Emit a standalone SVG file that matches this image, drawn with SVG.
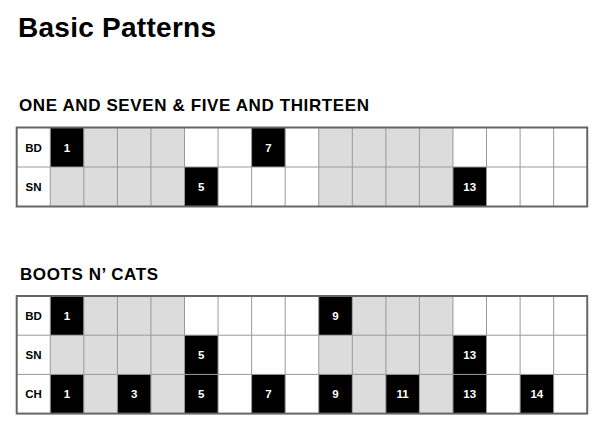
<svg xmlns="http://www.w3.org/2000/svg" width="606" height="442" viewBox="0 0 606 442">
<style>
text{font-family:"Liberation Sans",Arial,Helvetica,sans-serif;font-weight:bold}
.title{font-size:28px;fill:#000}
.sub{font-size:17px;fill:#000}
.lbl{font-size:11.5px;fill:#000;text-anchor:middle}
.num{font-size:11.5px;fill:#fff;text-anchor:middle}
.g{fill:#dcdcdc}
.b{fill:#000}
.grid{stroke:#999;stroke-width:1;fill:none}
.border{stroke:#666;stroke-width:2;fill:none}
</style>
<rect width="606" height="442" fill="#fff"/>
<text class="title" x="18" y="37" textLength="198" lengthAdjust="spacing">Basic Patterns</text>

<g id="pattern1">
<text class="sub" x="19" y="110.5" textLength="350" lengthAdjust="spacing">ONE AND SEVEN &amp; FIVE AND THIRTEEN</text>
<g id="p1-bd">
<rect class="b" x="50.26" y="127.5" width="33.56" height="39.5"/>
<rect class="g" x="83.82" y="127.5" width="100.68" height="39.5"/>
<rect class="b" x="251.62" y="127.5" width="33.56" height="39.5"/>
<rect class="g" x="318.74" y="127.5" width="134.24" height="39.5"/>
<text class="lbl" x="33.48" y="151.5">BD</text>
<text class="num" x="67.04" y="151.5">1</text>
<text class="num" x="268.4" y="151.5">7</text>
</g>
<g id="p1-sn">
<rect class="g" x="50.26" y="167" width="134.24" height="39.5"/>
<rect class="b" x="184.5" y="167" width="33.56" height="39.5"/>
<rect class="g" x="318.74" y="167" width="134.24" height="39.5"/>
<rect class="b" x="452.98" y="167" width="33.56" height="39.5"/>
<text class="lbl" x="33.48" y="191">SN</text>
<text class="num" x="201.28" y="191">5</text>
<text class="num" x="469.76" y="191">13</text>
</g>
<path class="grid" d="M16.7 167H587.22 M50.26 127.5V206.5 M83.82 127.5V206.5 M117.38 127.5V206.5 M150.94 127.5V206.5 M184.5 127.5V206.5 M218.06 127.5V206.5 M251.62 127.5V206.5 M285.18 127.5V206.5 M318.74 127.5V206.5 M352.3 127.5V206.5 M385.86 127.5V206.5 M419.42 127.5V206.5 M452.98 127.5V206.5 M486.54 127.5V206.5 M520.1 127.5V206.5 M553.66 127.5V206.5"/>
<rect class="border" x="16.7" y="127.5" width="570.52" height="79"/>
</g>

<g id="pattern2">
<text class="sub" x="20" y="280" textLength="138" lengthAdjust="spacing">BOOTS N’ CATS</text>
<g id="p2-bd">
<rect class="b" x="50.26" y="296" width="33.56" height="39.2"/>
<rect class="g" x="83.82" y="296" width="100.68" height="39.2"/>
<rect class="b" x="318.74" y="296" width="33.56" height="39.2"/>
<rect class="g" x="352.3" y="296" width="100.68" height="39.2"/>
<text class="lbl" x="33.48" y="319.8">BD</text>
<text class="num" x="67.04" y="319.8">1</text>
<text class="num" x="335.52" y="319.8">9</text>
</g>
<g id="p2-sn">
<rect class="g" x="50.26" y="335.2" width="134.24" height="39.2"/>
<rect class="b" x="184.5" y="335.2" width="33.56" height="39.2"/>
<rect class="g" x="318.74" y="335.2" width="134.24" height="39.2"/>
<rect class="b" x="452.98" y="335.2" width="33.56" height="39.2"/>
<text class="lbl" x="33.48" y="359">SN</text>
<text class="num" x="201.28" y="359">5</text>
<text class="num" x="469.76" y="359">13</text>
</g>
<g id="p2-ch">
<rect class="b" x="50.26" y="374.4" width="33.56" height="39.2"/>
<rect class="g" x="83.82" y="374.4" width="33.56" height="39.2"/>
<rect class="b" x="117.38" y="374.4" width="33.56" height="39.2"/>
<rect class="g" x="150.94" y="374.4" width="33.56" height="39.2"/>
<rect class="b" x="184.5" y="374.4" width="33.56" height="39.2"/>
<rect class="b" x="251.62" y="374.4" width="33.56" height="39.2"/>
<rect class="b" x="318.74" y="374.4" width="33.56" height="39.2"/>
<rect class="g" x="352.3" y="374.4" width="33.56" height="39.2"/>
<rect class="b" x="385.86" y="374.4" width="33.56" height="39.2"/>
<rect class="g" x="419.42" y="374.4" width="33.56" height="39.2"/>
<rect class="b" x="452.98" y="374.4" width="33.56" height="39.2"/>
<rect class="b" x="520.1" y="374.4" width="33.56" height="39.2"/>
<text class="lbl" x="33.48" y="398.2">CH</text>
<text class="num" x="67.04" y="398.2">1</text>
<text class="num" x="134.16" y="398.2">3</text>
<text class="num" x="201.28" y="398.2">5</text>
<text class="num" x="268.4" y="398.2">7</text>
<text class="num" x="335.52" y="398.2">9</text>
<text class="num" x="402.64" y="398.2">11</text>
<text class="num" x="469.76" y="398.2">13</text>
<text class="num" x="536.88" y="398.2">14</text>
</g>
<path class="grid" d="M16.7 335.2H587.22 M16.7 374.4H587.22 M50.26 296V413.6 M83.82 296V413.6 M117.38 296V413.6 M150.94 296V413.6 M184.5 296V413.6 M218.06 296V413.6 M251.62 296V413.6 M285.18 296V413.6 M318.74 296V413.6 M352.3 296V413.6 M385.86 296V413.6 M419.42 296V413.6 M452.98 296V413.6 M486.54 296V413.6 M520.1 296V413.6 M553.66 296V413.6"/>
<rect class="border" x="16.7" y="296" width="570.52" height="117.6"/>
</g>
</svg>
